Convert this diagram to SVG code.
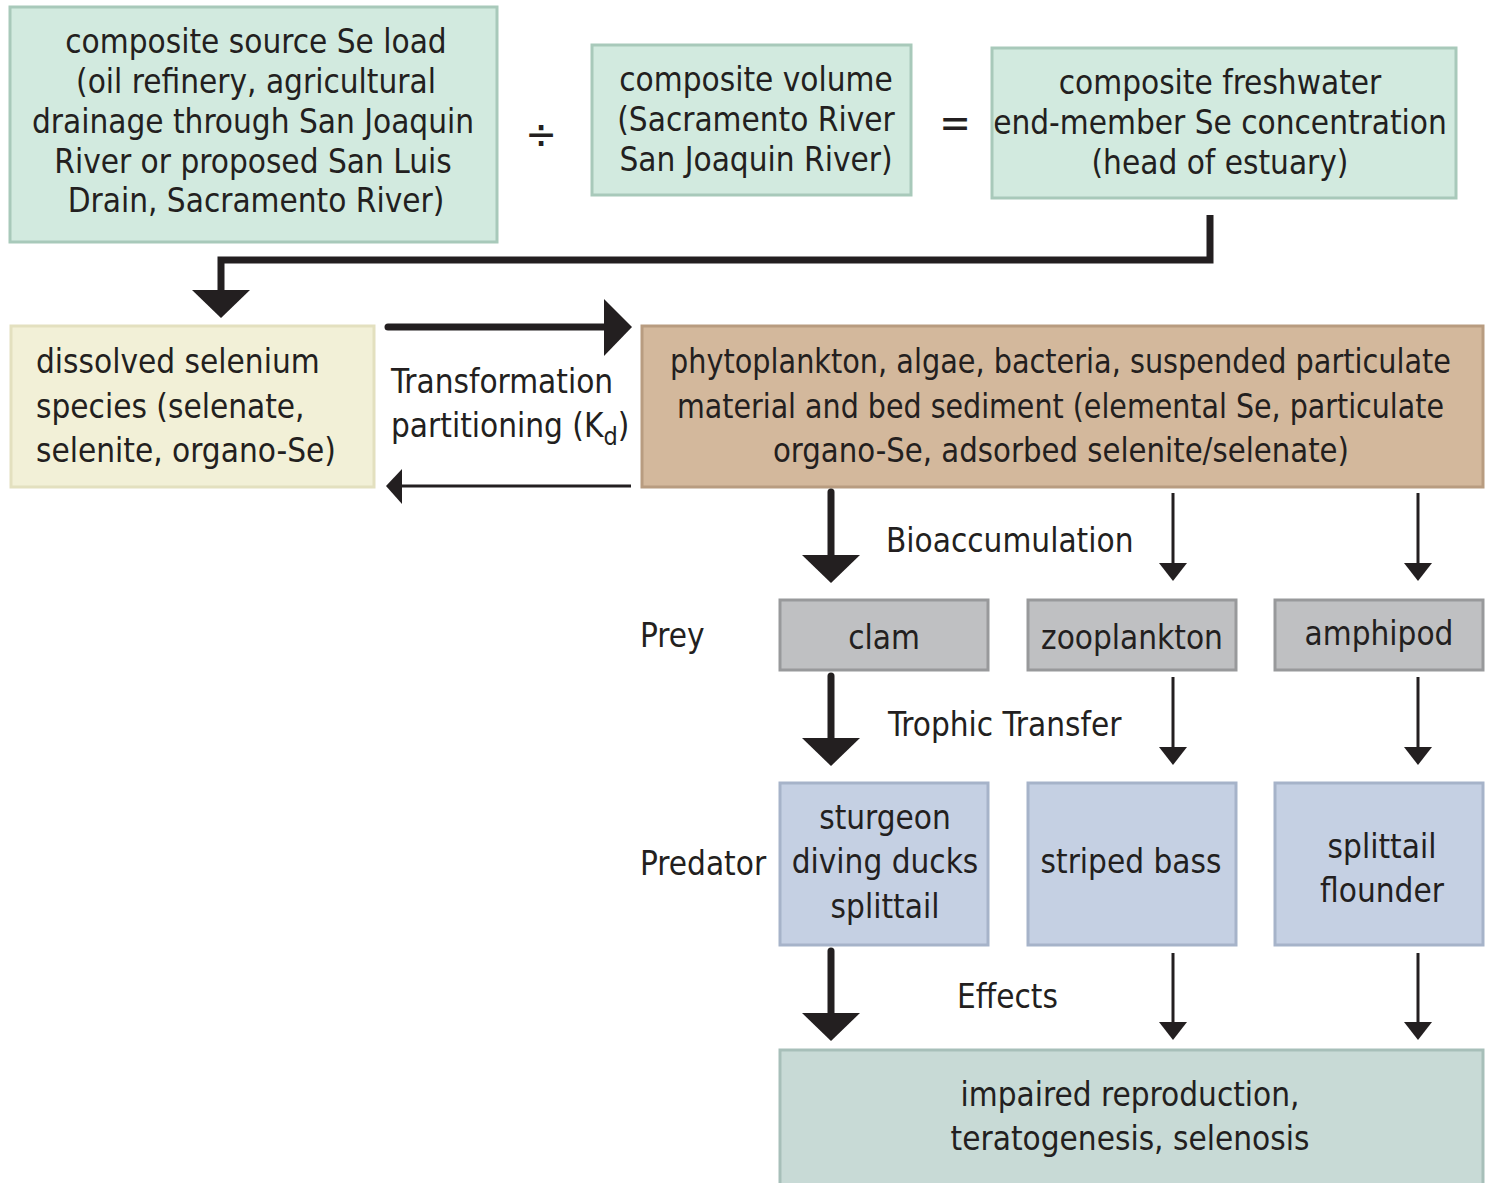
<svg xmlns="http://www.w3.org/2000/svg" width="1493" height="1183" viewBox="0 0 1493 1183">
<style>
text{font-family:"Liberation Sans Narrow","DejaVu Sans Condensed","Liberation Sans",sans-serif;font-size:33px;fill:#231f20}
.c{text-anchor:middle}
.green{fill:#d2eadf;stroke:#a8c9ba;stroke-width:3}
.tan{fill:#d3b89c;stroke:#b89c80;stroke-width:3}
.cream{fill:#f2f0d7;stroke:#e3e0bf;stroke-width:3}
.gray{fill:#bfc0c2;stroke:#98999b;stroke-width:3}
.blue{fill:#c5d0e3;stroke:#a6b3c9;stroke-width:3}
.teal{fill:#c8dad6;stroke:#a7bfb9;stroke-width:3}
.thick{stroke:#231f20;stroke-width:7;fill:none;stroke-linecap:round}
.thin{stroke:#231f20;stroke-width:3;fill:none}
.head{fill:#231f20}
</style>
<g id="source">
<rect class="green" x="10" y="7" width="487" height="235"/>
<text class="c" x="256" y="53">composite source Se load</text>
<text class="c" x="256" y="93">(oil refinery, agricultural</text>
<text class="c" x="253" y="133">drainage through San Joaquin</text>
<text class="c" x="253" y="173">River or proposed San Luis</text>
<text class="c" x="256" y="212">Drain, Sacramento River)</text>
</g>
<g id="divide"><text class="c" x="541" y="148" style="font-size:42px">÷</text></g>
<g id="volume">
<rect class="green" x="592" y="45" width="319" height="150"/>
<text class="c" x="756" y="91">composite volume</text>
<text class="c" x="756" y="131">(Sacramento River</text>
<text class="c" x="756" y="171">San Joaquin River)</text>
</g>
<g id="equals"><text class="c" x="955" y="137" style="font-size:42px">=</text></g>
<g id="concentration">
<rect class="green" x="992" y="48" width="464" height="150"/>
<text class="c" x="1220" y="94">composite freshwater</text>
<text class="c" x="1220" y="134">end-member Se concentration</text>
<text class="c" x="1220" y="174">(head of estuary)</text>
</g>
<g id="dissolved">
<rect class="cream" x="11" y="326" width="363" height="161"/>
<text x="36" y="373">dissolved selenium</text>
<text x="36" y="418">species (selenate,</text>
<text x="36" y="462">selenite, organo-Se)</text>
</g>
<g id="particulate">
<rect class="tan" x="642" y="326" width="841" height="161"/>
<text x="670" y="373" textLength="781" lengthAdjust="spacingAndGlyphs">phytoplankton, algae, bacteria, suspended particulate</text>
<text x="677" y="418" textLength="767" lengthAdjust="spacingAndGlyphs">material and bed sediment (elemental Se, particulate</text>
<text x="773" y="462" textLength="576" lengthAdjust="spacingAndGlyphs">organo-Se, adsorbed selenite/selenate)</text>
</g>
<g id="labels">
<text x="391" y="393">Transformation</text>
<text x="391" y="437">partitioning (K<tspan dy="8" style="font-size:25px">d</tspan><tspan dy="-8">)</tspan></text>
<text x="886" y="552">Bioaccumulation</text>
<text x="640" y="647">Prey</text>
<text x="888" y="736">Trophic Transfer</text>
<text x="640" y="875">Predator</text>
<text x="957" y="1008">Effects</text>
</g>
<g id="clam"><rect class="gray" x="780" y="600" width="208" height="70"/><text class="c" x="884" y="649">clam</text></g>
<g id="zooplankton"><rect class="gray" x="1028" y="600" width="208" height="70"/><text class="c" x="1132" y="649">zooplankton</text></g>
<g id="amphipod"><rect class="gray" x="1275" y="600" width="208" height="70"/><text class="c" x="1379" y="645">amphipod</text></g>
<g id="pred1"><rect class="blue" x="780" y="783" width="208" height="162"/>
<text class="c" x="885" y="829">sturgeon</text><text class="c" x="885" y="873">diving ducks</text><text class="c" x="885" y="918">splittail</text></g>
<g id="pred2"><rect class="blue" x="1028" y="783" width="208" height="162"/>
<text class="c" x="1131" y="873">striped bass</text></g>
<g id="pred3"><rect class="blue" x="1275" y="783" width="208" height="162"/>
<text class="c" x="1382" y="858">splittail</text><text class="c" x="1382" y="902">flounder</text></g>
<g id="effects"><rect class="teal" x="780" y="1050" width="703" height="140"/>
<text class="c" x="1130" y="1106">impaired reproduction,</text><text class="c" x="1130" y="1150">teratogenesis, selenosis</text></g>
<g id="connectors">
<path class="thick" d="M1210 215 V260 H221 V292" style="stroke-linecap:butt"/>
<path class="head" d="M192 290 H250 L221 318 Z"/>
<path class="thick" d="M388 327 H608"/>
<path class="head" d="M604 299 L632 327 L604 356 Z"/>
<path class="thin" d="M631 486 H398"/>
<path class="head" d="M402 469 L386 486 L402 504 Z"/>
<path class="thick" d="M831 492 V560"/><path class="head" d="M802 555 H860 L831 583 Z"/>
<path class="thin" d="M1173 493 V566"/><path class="head" d="M1159 563 H1187 L1173 581 Z"/>
<path class="thin" d="M1418 493 V566"/><path class="head" d="M1404 563 H1432 L1418 581 Z"/>
<path class="thick" d="M831 676 V743"/><path class="head" d="M802 738 H860 L831 766 Z"/>
<path class="thin" d="M1173 677 V750"/><path class="head" d="M1159 747 H1187 L1173 765 Z"/>
<path class="thin" d="M1418 677 V750"/><path class="head" d="M1404 747 H1432 L1418 765 Z"/>
<path class="thick" d="M831 951 V1018"/><path class="head" d="M802 1013 H860 L831 1041 Z"/>
<path class="thin" d="M1173 953 V1025"/><path class="head" d="M1159 1022 H1187 L1173 1040 Z"/>
<path class="thin" d="M1418 953 V1025"/><path class="head" d="M1404 1022 H1432 L1418 1040 Z"/>
</g>
</svg>
